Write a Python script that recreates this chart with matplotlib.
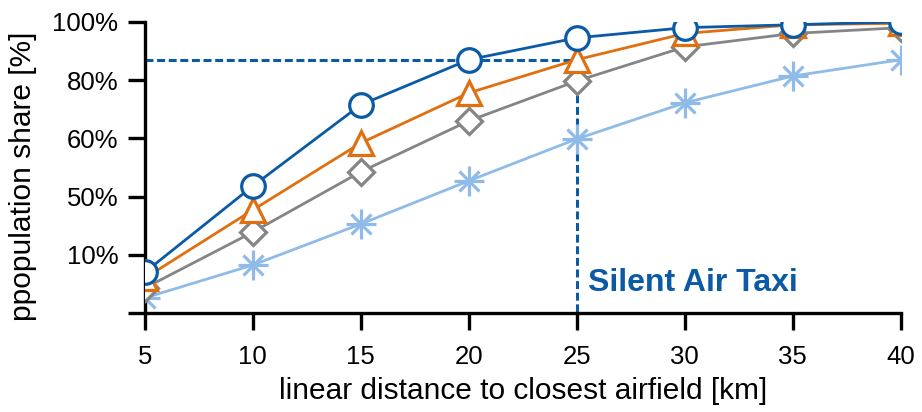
import matplotlib.pyplot as plt

plt.rcParams['font.family'] = ['Liberation Sans', 'DejaVu Sans']

# distances [km]
dist = [5, 10, 15, 20, 25, 30, 35, 40]

# population share per series [%]
share_circle = [14, 43.6, 71.5, 87, 94.5, 98, 99, 100]
share_triangle = [12, 35.4, 58.4, 75.6, 87, 96, 99, 99.5]
share_diamond = [8.6, 27.8, 48.5, 66, 79.7, 91.4, 96, 98]
share_star = [5.2, 16.5, 30.6, 45.4, 59.8, 72.2, 81.4, 87]

y_ticks = [0, 20, 40, 60, 80, 100]
y_labels = ['', '10%', '50%', '60%', '80%', '100%']

# Silent Air Taxi reference point
sat_x = 25
sat_y = 87

c_blue = '#0B5AA6'
c_orange = '#E0700F'
c_gray = '#858585'
c_light = '#8FBBE8'

fig = plt.figure(figsize=(9.22, 4.12), dpi=100)
ax = fig.add_axes([0.157, 0.240, 0.820, 0.707])

# dashed guide lines
ax.plot([dist[0], sat_x], [sat_y, sat_y], '--', color=c_blue, lw=2.2, dashes=(2.6, 1.2), zorder=1)
ax.plot([sat_x, sat_x], [sat_y, 0], '--', color=c_blue, lw=2.2, dashes=(2.6, 1.2), zorder=1)

ax.plot(dist, share_star, '-', color=c_light, lw=2, zorder=2)
ax.plot(dist, share_star, '+', color=c_light, ms=22, mew=2.3, zorder=2)
ax.plot(dist, share_star, 'x', color=c_light, ms=15, mew=2.3, zorder=2)
ax.plot(dist, share_diamond, '-D', color=c_gray, lw=2, ms=13, mew=2.3,
        mfc='white', zorder=3)
ax.plot(dist, share_triangle, '-^', color=c_orange, lw=2, ms=17, mew=2.3,
        mfc='white', zorder=4)
ax.plot(dist, share_circle, '-o', color=c_blue, lw=2, ms=17, mew=2.3,
        mfc='white', zorder=5)

ax.text(sat_x + 0.5, 10.5, 'Silent Air Taxi', color=c_blue, fontsize=23,
        fontweight='bold', va='center', ha='left')

ax.set_xlim(5, 40)
ax.set_ylim(0, 100)
ax.set_xticks(dist)
ax.set_yticks(y_ticks)
ax.set_yticklabels(y_labels)

for s in ['top', 'right']:
    ax.spines[s].set_visible(False)
for s in ['left', 'bottom']:
    ax.spines[s].set_linewidth(2.4)
ax.tick_params(direction='out', length=12, width=2.4, labelsize=18.5)
ax.tick_params(axis='x', pad=11)
ax.tick_params(axis='y', pad=7)
for lab in ax.get_xticklabels() + ax.get_yticklabels():
    lab.set_clip_on(False)

ax.set_xlabel('linear distance to closest airfield [km]', fontsize=21.5, labelpad=6)
ax.set_ylabel('ppopulation share [%]', fontsize=21.5, labelpad=8)
ax.yaxis.set_label_coords(-0.142, 0.47)

fig.savefig('out.png', dpi=100)
